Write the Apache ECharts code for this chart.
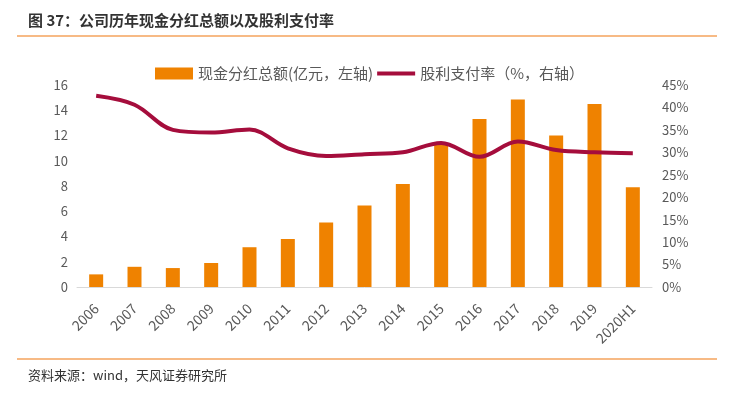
<!DOCTYPE html>
<html>
<head>
<meta charset="utf-8">
<script src="https://cdn.jsdelivr.net/npm/echarts@6/dist/echarts.min.js"></script>
<style>
html,body{margin:0;padding:0;background:#fff;}
#chart{width:733px;height:393px;}
</style>
</head>
<body>
<div id="chart"></div>
<script>
var categories = ['2006','2007','2008','2009','2010','2011','2012','2013','2014','2015','2016','2017','2018','2019','2020H1'];
var dividendTotal = [1.0, 1.6, 1.5, 1.9, 3.15, 3.8, 5.1, 6.45, 8.15, 11.3, 13.3, 14.85, 12.0, 14.5, 7.9];
var payoutRatio = [42.6, 40.6, 35.0, 34.4, 35.1, 30.9, 29.2, 29.6, 30.0, 32.1, 29.0, 32.4, 30.5, 30.0, 29.8];
var leftTicks = {min: 0, max: 16, interval: 2};
var rightTicks = {min: 0, max: 45, interval: 5};
var titleText = '图 37：公司历年现金分红总额以及股利支付率';
var sourceText = '资料来源：wind，天风证券研究所';
var barName = '现金分红总额(亿元，左轴)';
var lineName = '股利支付率（%，右轴）';

var font = '"Noto Sans CJK SC", "Noto Sans", sans-serif';
var chart = echarts.init(document.getElementById('chart'), null, {renderer: 'canvas'});
chart.setOption({
  backgroundColor: '#ffffff',
  animation: false,
  textStyle: {fontFamily: font},
  graphic: [
    {type: 'text', left: 28, top: 13, style: {text: titleText, font: 'bold 15px ' + font, fill: '#333333'}},
    {type: 'line', shape: {x1: 17, y1: 36, x2: 717, y2: 36}, style: {stroke: '#F5A35C', lineWidth: 1.5}},
    {type: 'line', shape: {x1: 17, y1: 359, x2: 717, y2: 359}, style: {stroke: '#F5A35C', lineWidth: 1.5}},
    {type: 'text', left: 28, top: 369, style: {text: sourceText, font: '13px ' + font, fill: '#333333'}}
  ],
  legend: {
    top: 61,
    left: 150,
    itemWidth: 38,
    itemHeight: 12,
    itemGap: 2,
    textStyle: {fontSize: 15, color: '#595959', fontFamily: font},
    data: [
      {name: barName, icon: 'rect'},
      {name: lineName, itemStyle: {opacity: 0}, lineStyle: {width: 4, color: '#A50D3C'}}
    ]
  },
  grid: {left: 77, right: 81, top: 85, bottom: 106, containLabel: false},
  xAxis: {
    type: 'category',
    data: categories,
    axisTick: {show: false},
    axisLine: {lineStyle: {color: '#D9D9D9', width: 1}},
    axisLabel: {rotate: 45, fontSize: 14, color: '#595959', margin: 19, interval: 0, fontFamily: font}
  },
  yAxis: [
    {
      type: 'value', min: leftTicks.min, max: leftTicks.max, interval: leftTicks.interval,
      splitLine: {show: false}, axisLine: {show: false}, axisTick: {show: false},
      axisLabel: {fontSize: 13, color: '#595959', margin: 9, fontFamily: font}
    },
    {
      type: 'value', min: rightTicks.min, max: rightTicks.max, interval: rightTicks.interval,
      splitLine: {show: false}, axisLine: {show: false}, axisTick: {show: false},
      axisLabel: {fontSize: 13, color: '#595959', margin: 10, formatter: '{value}%', fontFamily: font}
    }
  ],
  series: [
    {
      name: barName, type: 'bar', data: dividendTotal, yAxisIndex: 0,
      barWidth: 14, itemStyle: {color: '#EF8200'}
    },
    {
      name: lineName, type: 'line', data: payoutRatio, yAxisIndex: 1,
      smooth: 0.35, symbol: 'none', showSymbol: false,
      lineStyle: {color: '#A50D3C', width: 4}, itemStyle: {color: '#A50D3C'}
    }
  ]
});
</script>
</body>
</html>
